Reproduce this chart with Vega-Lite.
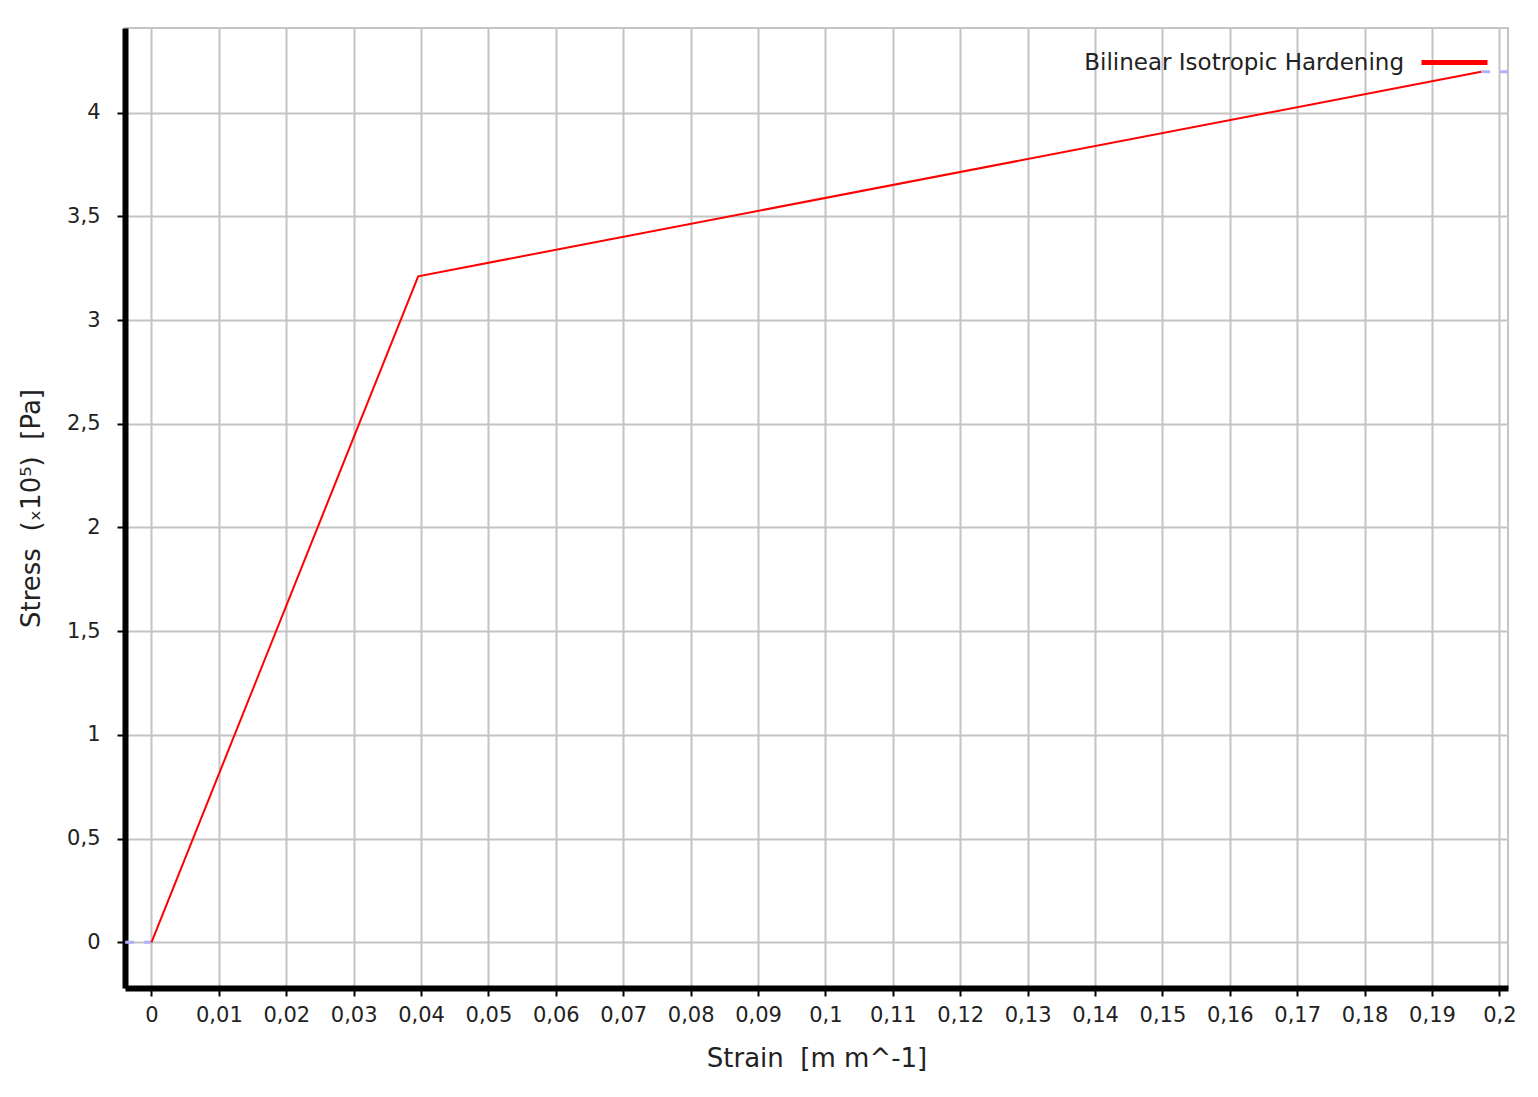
{
  "$schema": "https://vega.github.io/schema/vega-lite/v6.json",
  "width": 1383,
  "height": 960,
  "autosize": {"type": "none"},
  "padding": {"left": 125, "top": 28, "right": 30, "bottom": 109},
  "background": "white",
  "config": {
    "font": "DejaVu Sans",
    "view": {"stroke": "#c4c4c4", "strokeWidth": 2},
    "axis": {
      "domainColor": "black",
      "domainWidth": 6,
      "tickColor": "black",
      "tickWidth": 2,
      "tickSize": 8,
      "gridColor": "#c4c4c4",
      "gridWidth": 2,
      "gridOpacity": 1,
      "labelFont": "DejaVu Sans",
      "labelFontSize": 21,
      "labelColor": "#222222",
      "titleFont": "DejaVu Sans",
      "titleFontSize": 26,
      "titleFontWeight": "normal",
      "titleColor": "#222222"
    }
  },
  "datasets": {
    "curve": [
      {"strain": 0, "stress": 0},
      {"strain": 0.03957, "stress": 3.211},
      {"strain": 0.1973, "stress": 4.197}
    ],
    "ext": [
      {"strain": -0.0039, "stress": 0, "seg": "start"},
      {"strain": 0, "stress": 0, "seg": "start"},
      {"strain": 0.1973, "stress": 4.197, "seg": "end"},
      {"strain": 0.205, "stress": 4.197, "seg": "end"}
    ]
  },
  "layer": [
    {
      "data": {"name": "ext"},
      "mark": {"type": "line", "clip": true, "stroke": "#b0b0ff", "strokeWidth": 3, "strokeDash": [9, 10]},
      "encoding": {
        "x": {"field": "strain", "type": "quantitative", "scale": {"domain": [-0.00393, 0.20128], "nice": false, "zero": false}},
        "y": {"field": "stress", "type": "quantitative", "scale": {"domain": [-0.22, 4.408], "nice": false, "zero": false}},
        "detail": {"field": "seg"}
      }
    },
    {
      "data": {"name": "curve"},
      "mark": {"type": "line", "clip": true, "strokeWidth": 2},
      "encoding": {
        "x": {
          "field": "strain", "type": "quantitative",
          "title": "Strain \u00a0[m m^-1]",
          "axis": {
            "values": [0, 0.01, 0.02, 0.03, 0.04, 0.05, 0.06, 0.07, 0.08, 0.09, 0.1, 0.11, 0.12, 0.13, 0.14, 0.15, 0.16, 0.17, 0.18, 0.19, 0.2],
            "labelExpr": "replace(format(datum.value, '~g'), '.', ',')",
            "labelPadding": 8,
            "titlePadding": 20,
            "labelFlush": false,
            "labelOverlap": false
          }
        },
        "y": {
          "field": "stress", "type": "quantitative",
          "title": "Stress \u00a0(ₓ10⁵) \u00a0[Pa]",
          "axis": {
            "values": [0, 0.5, 1, 1.5, 2, 2.5, 3, 3.5, 4],
            "labelExpr": "replace(format(datum.value, '~g'), '.', ',')",
            "labelPadding": 17,
            "titlePadding": 22,
            "labelFlush": false,
            "labelOverlap": false
          }
        },
        "color": {
          "datum": "Bilinear Isotropic Hardening",
          "type": "nominal",
          "scale": {"range": ["#ff0000"]},
          "legend": {
            "title": null,
            "orient": "none",
            "legendX": 1294,
            "legendY": -1,
            "symbolType": "stroke",
            "symbolSize": 4356,
            "symbolStrokeWidth": 5,
            "labelAlign": "right",
            "labelOffset": -86,
            "labelFont": "DejaVu Sans",
            "labelFontSize": 23,
            "labelColor": "#222222",
            "labelLimit": 600
          }
        }
      }
    }
  ]
}
